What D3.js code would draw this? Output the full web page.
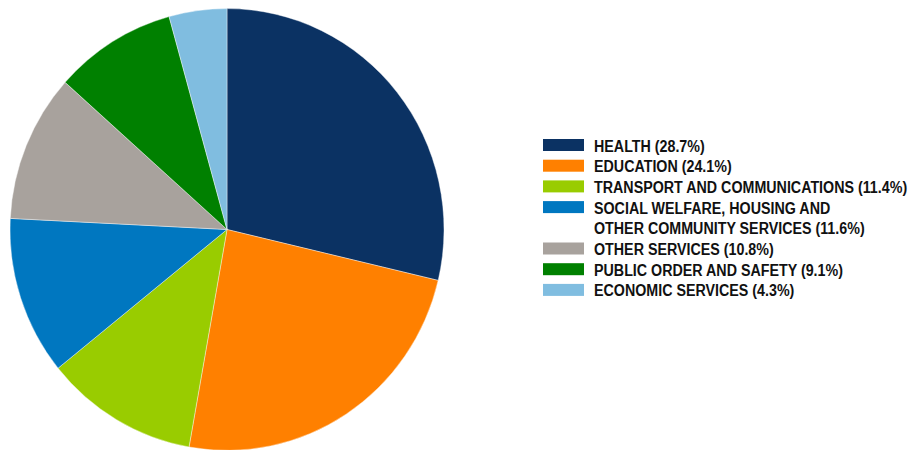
<!DOCTYPE html>
<html>
<head>
<meta charset="utf-8">
<script src="https://cdn.jsdelivr.net/npm/d3@7"></script>
<style>
body { margin: 0; background: #fff; }
svg text { font-family: "Liberation Sans", Arial, sans-serif; font-weight: bold; }
</style>
</head>
<body>
<svg id="vimage" width="916" height="450"></svg>
<script>
// ---- data ----
var categories = ["HEALTH", "EDUCATION", "TRANSPORT AND COMMUNICATIONS",
    "SOCIAL WELFARE, HOUSING AND|OTHER COMMUNITY SERVICES", "OTHER SERVICES",
    "PUBLIC ORDER AND SAFETY", "ECONOMIC SERVICES"];
var shares = [28.7, 24.1, 11.4, 11.6, 10.8, 9.1, 4.3];
var colours = ["#0b3263", "#ff8000", "#99cc00", "#0077c0", "#a8a29d", "#008000", "#80bde0"];

var svg = d3.select("#vimage");
var data = categories.map(function(c, i) { return {name: c, value: shares[i]}; });

var color = d3.scaleOrdinal().domain(categories).range(colours);

var pie = d3.pie().sort(null).value(function(d) { return d.value; })(data);
var radius = 217;
var arc = d3.arc().outerRadius(radius).innerRadius(0);

var g = svg.append("g")
    .attr("transform", "translate(227,229.5) scale(1,1.018)");

g.selectAll("path")
    .data(pie)
    .enter().append("path")
    .attr("d", arc)
    .style("fill", function(d) { return color(d.data.name); })
    .style("stroke", "#fff")
    .style("stroke-width", 0.4);

// ---- legend ----
var legend = svg.append("g").attr("transform", "translate(543,139)");
var rowH = 20.7;
var row = 0;
data.forEach(function(d) {
    var lines = d.name.split("|");
    var item = legend.append("g").attr("transform", "translate(0," + (row * rowH) + ")");
    item.append("rect")
        .attr("x", 0).attr("y", 0)
        .attr("width", 41).attr("height", 12)
        .style("fill", color(d.name));
    lines.forEach(function(l, j) {
        var txt = l + (j == lines.length - 1 ? " (" + d.value.toFixed(1) + "%)" : "");
        item.append("text")
            .attr("transform", "translate(51," + (12.5 + j * rowH) + ") scale(0.84,1)")
            .style("font-size", "17px")
            .style("fill", "#111")
            .text(txt);
    });
    row += lines.length;
});
</script>
</body>
</html>
